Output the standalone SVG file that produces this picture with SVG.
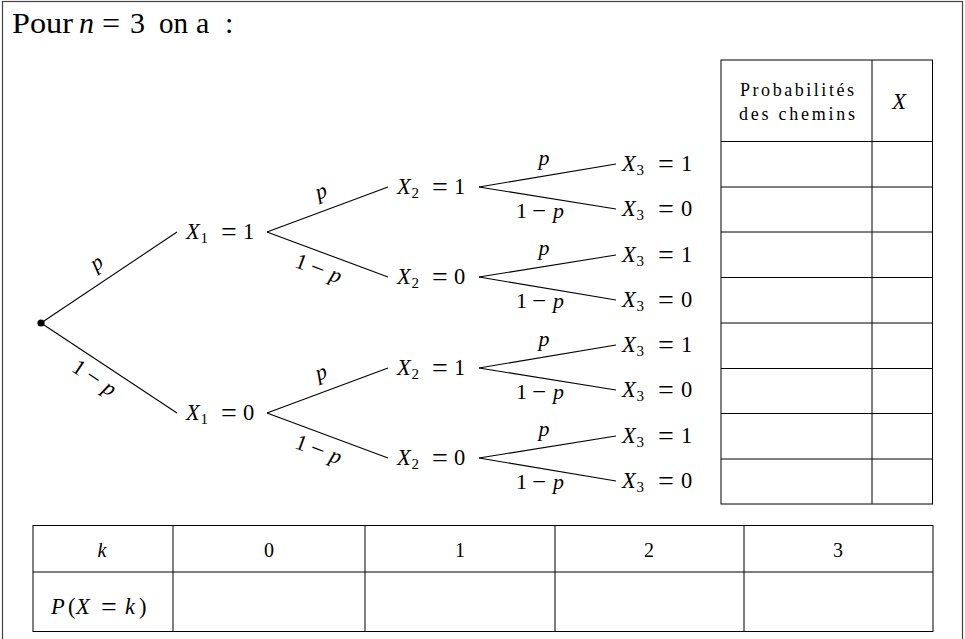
<svg xmlns="http://www.w3.org/2000/svg" width="965" height="639" viewBox="0 0 965 639">
<style>
text{font-family:"Liberation Serif","Times New Roman",serif;fill:#000}
.n{font-size:22.5px}
.i{font-style:italic}
.s{font-size:15px}
.eq{font-size:28px}
.mi{font-size:25px}
.l{font-size:22px}
.pc{font-size:22px;text-anchor:middle;font-style:italic}
.c{stroke:#000;stroke-width:1.1;fill:none}
.t{stroke:#000;stroke-width:1;fill:none}
.h{font-size:18px;text-anchor:middle}
.b{font-size:20px;text-anchor:middle}
</style>
<rect x="2.5" y="1.5" width="960" height="645" fill="#fff" stroke="#444" stroke-width="1.2"/>
<g id="title">
<text x="12" y="33" font-size="30"><tspan textLength="61" lengthAdjust="spacingAndGlyphs">Pour</tspan><tspan x="79" class="i">n</tspan><tspan x="102" font-size="32" y="34">=</tspan><tspan x="130" y="33">3</tspan><tspan x="159" textLength="29" lengthAdjust="spacingAndGlyphs">on</tspan><tspan x="196">a</tspan><tspan x="225">:</tspan></text>
</g>
<g id="connectors">
<line class="c" x1="41" y1="323" x2="177" y2="232"/>
<line class="c" x1="41" y1="323" x2="177" y2="413"/>
<line class="c" x1="267" y1="232" x2="388" y2="187"/>
<line class="c" x1="267" y1="232" x2="388" y2="277"/>
<line class="c" x1="267" y1="413" x2="388" y2="368"/>
<line class="c" x1="267" y1="413" x2="388" y2="458"/>
<line class="c" x1="479" y1="187" x2="616" y2="164"/>
<line class="c" x1="479" y1="187" x2="616" y2="209"/>
<line class="c" x1="479" y1="277" x2="616" y2="255"/>
<line class="c" x1="479" y1="277" x2="616" y2="300"/>
<line class="c" x1="479" y1="368" x2="616" y2="345"/>
<line class="c" x1="479" y1="368" x2="616" y2="390"/>
<line class="c" x1="479" y1="458" x2="616" y2="436"/>
<line class="c" x1="479" y1="458" x2="616" y2="481"/>
</g>
<g id="edge-labels">
<text class="pc" transform="translate(98,265) rotate(-33.7)" y="4">p</text>
<text class="l" transform="translate(97,381) rotate(33.7)"><tspan x="-28" y="6">1</tspan><tspan class="mi" x="-12" y="7">−</tspan><tspan class="i" x="9" y="6">p</tspan></text>
<text class="pc" transform="translate(322,194) rotate(-20.4)" y="4">p</text>
<text class="l" transform="translate(322,271) rotate(20.4)"><tspan x="-28" y="6">1</tspan><tspan class="mi" x="-12" y="7">−</tspan><tspan class="i" x="9" y="6">p</tspan></text>
<text class="pc" transform="translate(322,375) rotate(-20.4)" y="4">p</text>
<text class="l" transform="translate(322,452) rotate(20.4)"><tspan x="-28" y="6">1</tspan><tspan class="mi" x="-12" y="7">−</tspan><tspan class="i" x="9" y="6">p</tspan></text>
<text class="pc" x="544" y="165">p</text>
<text class="l" transform="translate(544,218)"><tspan x="-28" y="0">1</tspan><tspan class="mi" x="-12" y="1">−</tspan><tspan class="i" x="9" y="0">p</tspan></text>
<text class="pc" x="544" y="255">p</text>
<text class="l" transform="translate(544,308)"><tspan x="-28" y="0">1</tspan><tspan class="mi" x="-12" y="1">−</tspan><tspan class="i" x="9" y="0">p</tspan></text>
<text class="pc" x="544" y="346">p</text>
<text class="l" transform="translate(544,399)"><tspan x="-28" y="0">1</tspan><tspan class="mi" x="-12" y="1">−</tspan><tspan class="i" x="9" y="0">p</tspan></text>
<text class="pc" x="544" y="436">p</text>
<text class="l" transform="translate(544,489)"><tspan x="-28" y="0">1</tspan><tspan class="mi" x="-12" y="1">−</tspan><tspan class="i" x="9" y="0">p</tspan></text>
</g>
<g id="root"><circle cx="41" cy="323" r="3.6" fill="#000"/></g>
<g id="x1-1"><text class="n" transform="translate(186,239)"><tspan class="i" x="0" y="0">X</tspan><tspan class="s" x="14.5" y="3.5">1</tspan><tspan class="eq" x="35" y="1.5">=</tspan><tspan x="57" y="0">1</tspan></text></g>
<g id="x1-0"><text class="n" transform="translate(186,420)"><tspan class="i" x="0" y="0">X</tspan><tspan class="s" x="14.5" y="3.5">1</tspan><tspan class="eq" x="35" y="1.5">=</tspan><tspan x="57" y="0">0</tspan></text></g>
<g id="x2-1a"><text class="n" transform="translate(397,194)"><tspan class="i" x="0" y="0">X</tspan><tspan class="s" x="14.5" y="3.5">2</tspan><tspan class="eq" x="35" y="1.5">=</tspan><tspan x="57" y="0">1</tspan></text></g>
<g id="x2-0a"><text class="n" transform="translate(397,284)"><tspan class="i" x="0" y="0">X</tspan><tspan class="s" x="14.5" y="3.5">2</tspan><tspan class="eq" x="35" y="1.5">=</tspan><tspan x="57" y="0">0</tspan></text></g>
<g id="x2-1b"><text class="n" transform="translate(397,375)"><tspan class="i" x="0" y="0">X</tspan><tspan class="s" x="14.5" y="3.5">2</tspan><tspan class="eq" x="35" y="1.5">=</tspan><tspan x="57" y="0">1</tspan></text></g>
<g id="x2-0b"><text class="n" transform="translate(397,465)"><tspan class="i" x="0" y="0">X</tspan><tspan class="s" x="14.5" y="3.5">2</tspan><tspan class="eq" x="35" y="1.5">=</tspan><tspan x="57" y="0">0</tspan></text></g>
<g id="x3-1"><text class="n" transform="translate(622,171)"><tspan class="i" x="0" y="0">X</tspan><tspan class="s" x="14.5" y="3.5">3</tspan><tspan class="eq" x="36" y="1.5">=</tspan><tspan x="59" y="0">1</tspan></text></g>
<g id="x3-2"><text class="n" transform="translate(622,216)"><tspan class="i" x="0" y="0">X</tspan><tspan class="s" x="14.5" y="3.5">3</tspan><tspan class="eq" x="36" y="1.5">=</tspan><tspan x="59" y="0">0</tspan></text></g>
<g id="x3-3"><text class="n" transform="translate(622,262)"><tspan class="i" x="0" y="0">X</tspan><tspan class="s" x="14.5" y="3.5">3</tspan><tspan class="eq" x="36" y="1.5">=</tspan><tspan x="59" y="0">1</tspan></text></g>
<g id="x3-4"><text class="n" transform="translate(622,307)"><tspan class="i" x="0" y="0">X</tspan><tspan class="s" x="14.5" y="3.5">3</tspan><tspan class="eq" x="36" y="1.5">=</tspan><tspan x="59" y="0">0</tspan></text></g>
<g id="x3-5"><text class="n" transform="translate(622,352)"><tspan class="i" x="0" y="0">X</tspan><tspan class="s" x="14.5" y="3.5">3</tspan><tspan class="eq" x="36" y="1.5">=</tspan><tspan x="59" y="0">1</tspan></text></g>
<g id="x3-6"><text class="n" transform="translate(622,397)"><tspan class="i" x="0" y="0">X</tspan><tspan class="s" x="14.5" y="3.5">3</tspan><tspan class="eq" x="36" y="1.5">=</tspan><tspan x="59" y="0">0</tspan></text></g>
<g id="x3-7"><text class="n" transform="translate(622,443)"><tspan class="i" x="0" y="0">X</tspan><tspan class="s" x="14.5" y="3.5">3</tspan><tspan class="eq" x="36" y="1.5">=</tspan><tspan x="59" y="0">1</tspan></text></g>
<g id="x3-8"><text class="n" transform="translate(622,488)"><tspan class="i" x="0" y="0">X</tspan><tspan class="s" x="14.5" y="3.5">3</tspan><tspan class="eq" x="36" y="1.5">=</tspan><tspan x="59" y="0">0</tspan></text></g>
<g id="paths-table">
<rect class="t" x="721" y="60" width="211.5" height="444"/>
<line class="t" x1="872" y1="60" x2="872" y2="504"/>
<path class="t" d="M721 141.5H932.5M721 187H932.5M721 232H932.5M721 277.5H932.5M721 323H932.5M721 368.5H932.5M721 413.5H932.5M721 459H932.5"/>
<text class="h" x="797" y="96" textLength="114" lengthAdjust="spacing">Probabilités</text>
<text class="h" x="797" y="120" textLength="116" lengthAdjust="spacing">des chemins</text>
<text class="n i" x="899" y="109" text-anchor="middle">X</text>
</g>
<g id="law-table">
<rect class="t" x="33" y="525.5" width="900" height="106"/>
<line class="t" x1="33" y1="572" x2="933" y2="572"/>
<path class="t" d="M173 525.5V631.5M365 525.5V631.5M555 525.5V631.5M744 525.5V631.5"/>
<text class="b i" x="102" y="557" font-size="21">k</text>
<text class="b" x="269" y="557">0</text>
<text class="b" x="460" y="557">1</text>
<text class="b" x="649" y="557">2</text>
<text class="b" x="838" y="557">3</text>
<text class="n" transform="translate(0,614)"><tspan class="i" x="51" y="0">P</tspan><tspan x="68" y="0">(</tspan><tspan class="i" x="76" y="0">X</tspan><tspan class="eq" x="101" y="1.5">=</tspan><tspan class="i" x="125" y="0">k</tspan><tspan x="139" y="0">)</tspan></text>
</g>
</svg>
